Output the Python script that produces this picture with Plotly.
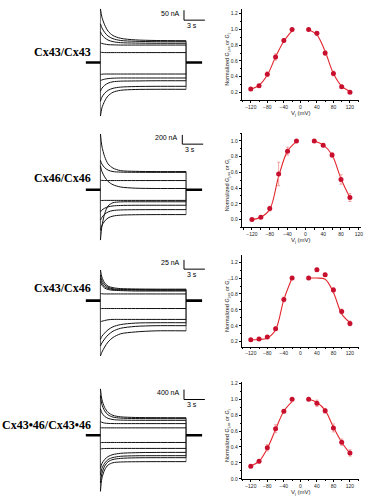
import plotly.graph_objects as go

W, H = 369, 500

# ======================= DATA =======================
# ---- right panels: normalized junctional conductance vs Vj (mV) ----
VJ_NEG = [-120, -100, -80, -60, -40, -20]
VJ_POS = [20, 40, 60, 80, 100, 120]
VJ_POS_4646 = [20, 40, 60, 80, 100]

# Cx43/Cx43
G_4343_NEG = [0.243, 0.285, 0.43, 0.65, 0.86, 1.00]
G_4343_POS = [1.00, 0.95, 0.70, 0.44, 0.27, 0.20]
ERR_4343_NEG = [0.01, 0.015, 0.03, 0.04, 0.02, 0.0]
ERR_4343_POS = [0.0, 0.02, 0.03, 0.03, 0.02, 0.01]
FIT_4343_NEG = [0.24, 0.29, 0.42, 0.65, 0.85, 0.98]
FIT_4343_POS = [1.00, 0.93, 0.72, 0.44, 0.28, 0.21]

# Cx46/Cx46
G_4646_NEG = [0.00, 0.03, 0.14, 0.58, 0.87, 1.00]
G_4646_POS = [1.00, 0.945, 0.82, 0.51, 0.28]
ERR_4646_NEG = [0.01, 0.015, 0.03, 0.15, 0.05, 0.0]
ERR_4646_POS = [0.0, 0.02, 0.03, 0.06, 0.05]
FIT_4646_NEG = [0.00, 0.03, 0.13, 0.55, 0.87, 0.99]
FIT_4646_POS = [1.00, 0.95, 0.82, 0.52, 0.28]

# Cx43/Cx46
G_4346_NEG = [0.226, 0.234, 0.26, 0.364, 0.73, 1.00]
G_4346_POS = [1.00, 1.105, 1.04, 0.85, 0.58, 0.43]
ERR_4346_NEG = [0.01, 0.01, 0.015, 0.02, 0.03, 0.0]
ERR_4346_POS = [0.0, 0.02, 0.02, 0.03, 0.03, 0.03]
FIT_4346_NEG = [0.225, 0.228, 0.245, 0.35, 0.73, 1.00]
FIT_4346_POS = [1.00, 1.00, 0.985, 0.82, 0.55, 0.44]

# Cx43*46/Cx43*46
G_TAN_NEG = [0.158, 0.22, 0.39, 0.63, 0.85, 1.00]
G_TAN_POS = [1.00, 0.95, 0.855, 0.64, 0.46, 0.325]
ERR_TAN_NEG = [0.02, 0.02, 0.04, 0.05, 0.02, 0.01]
ERR_TAN_POS = [0.0, 0.04, 0.03, 0.05, 0.04, 0.04]
FIT_TAN_NEG = [0.16, 0.22, 0.38, 0.62, 0.85, 0.97]
FIT_TAN_POS = [1.00, 0.96, 0.86, 0.65, 0.46, 0.32]

# ---- left panels: junctional current traces (nA) sampled at T_PULSE (s) ----
T_PULSE = [0, 0.2, 0.6, 1.1, 1.8, 2.9, 5.0, 8.0, 12.3]
T_HOLD_LEFT = [-2.1, 0]
T_HOLD_RIGHT = [12.3, 14.6]

I_4343 = [
    [52, 51, 50, 50, 50, 50, 50, 50, 50],
    [100, 96, 93, 90, 89, 88, 88, 88, 88],
    [155, 140, 125, 113, 105, 100, 98, 97, 97],
    [195, 175, 152, 133, 120, 111, 107, 105, 105],
    [270, 230, 190, 158, 136, 122, 114, 111, 110],
    [-60, -59, -58, -58, -58, -58, -58, -58, -58],
    [-92, -88, -84, -81, -79, -78, -78, -78, -78],
    [-145, -130, -115, -104, -97, -94, -93, -92, -92],
    [-195, -175, -155, -140, -130, -124, -121, -120, -120],
    [-270, -230, -195, -168, -150, -140, -136, -135, -135],
]
I_4646 = [
    [640, 560, 480, 425, 395, 383, 379, 378, 378],
    [205, 203, 201, 200, 200, 200, 200, 200, 200],
    [520, 400, 280, 180, 110, 60, 35, 28, 28],
    [1210, 950, 720, 560, 470, 415, 400, 395, 395],
    [-235, -232, -230, -230, -230, -230, -230, -230, -230],
    [-480, -440, -400, -370, -350, -340, -336, -335, -335],
    [-660, -600, -530, -480, -450, -437, -432, -430, -430],
    [-875, -780, -680, -610, -570, -550, -541, -538, -538],
    [-1090, -800, -520, -350, -280, -262, -260, -260, -260],
]
I_4346 = [
    [19, 18.5, 18, 18, 18, 18, 18, 18, 18],
    [52, 42, 34, 30, 28, 27, 26, 26, 26],
    [61, 48, 38, 33, 30, 29, 28.5, 28, 28],
    [70, 55, 43, 36, 32, 30.5, 30, 29.5, 29.5],
    [83, 64, 48, 39, 35, 32.5, 31.5, 31, 31],
    [-22, -21.5, -21.5, -21.5, -21.5, -21.5, -21.5, -21.5, -21.5],
    [-58, -56, -54, -52, -51, -51, -51, -51, -51],
    [-105, -97, -88, -79, -71, -65, -61, -60, -60],
    [-123, -115, -104, -93, -83, -75, -70, -68, -68],
    [-150, -140, -126, -112, -100, -90, -85, -82, -82],
]
I_TAN = [
    [300, 298, 296, 296, 296, 296, 296, 296, 296],
    [560, 520, 490, 475, 470, 468, 468, 468, 468],
    [1068, 900, 760, 680, 630, 610, 602, 600, 600],
    [1600, 1250, 980, 820, 730, 690, 672, 668, 668],
    [1868, 1450, 1120, 920, 800, 740, 715, 708, 705],
    [-300, -295, -293, -293, -293, -293, -293, -293, -293],
    [-560, -545, -537, -534, -533, -533, -533, -533, -533],
    [-1333, -1150, -980, -860, -780, -730, -705, -695, -693],
    [-1600, -1350, -1130, -980, -900, -850, -830, -826, -826],
    [-1930, -1550, -1250, -1070, -980, -935, -912, -906, -906],
    [-2265, -1750, -1400, -1200, -1110, -1080, -1070, -1066, -1066],
]

PAIR_LABELS = ["Cx43/Cx43", "Cx46/Cx46", "Cx43/Cx46", "Cx43\u202246/Cx43\u202246"]
SCALE_NA = [50, 200, 25, 400]
SCALE_S = 3
X_TICKS = [-120, -80, -40, 0, 40, 80, 120]
Y_TICKS_A = [0.2, 0.4, 0.6, 0.8, 1.0, 1.2]
Y_TICKS_B = [0.0, 0.2, 0.4, 0.6, 0.8, 1.0]
Y_TICKS_C = [0.0, 0.2, 0.4, 0.6, 0.8, 1.0, 1.2]
Y_TITLE = "Normalized G<sub>j,ss</sub> or G<sub>j</sub>"
X_TITLE = "V<sub>j</sub> (mV)"

# ======================= LAYOUT GEOMETRY (pixels) =======================
def fx(p):
    return p / W

def fy(p):
    return 1 - p / H

T0_PX, PX_PER_S = 101.0, 7.0
LEFT_X_PX = (80, 210)
LEFT = [
    dict(top=0, bot=120, base=61.0, bar_px=10.0, bar_x=185.0, bar_y=18.3, label_y=50.0),
    dict(top=125, bot=245, base=189.3, bar_px=9.3, bar_x=183.3, bar_y=143.3, label_y=177.5),
    dict(top=250, bot=362, base=301.0, bar_px=9.3, bar_x=185.0, bar_y=269.3, label_y=288.0),
    dict(top=375, bot=500, base=436.7, bar_px=10.0, bar_x=185.0, bar_y=400.7, label_y=426.0),
]
RIGHT = [
    dict(x0=243, x1=361, y0=7, y1=99, xr=[-142, 142], yr=[0.1, 1.26], yt=Y_TICKS_A, xt=True),
    dict(x0=243, x1=363, y0=131.7, y1=227.3, xr=[-143, 125], yr=[-0.1, 1.105], yt=Y_TICKS_B, xt=True),
    dict(x0=243, x1=361, y0=255, y1=347.3, xr=[-142, 142], yr=[0.14, 1.29], yt=Y_TICKS_A, xt=False),
    dict(x0=243, x1=361, y0=383.3, y1=481, xr=[-142, 142], yr=[-0.005, 1.215], yt=Y_TICKS_C, xt=True),
]

CURRENTS = [I_4343, I_4646, I_4346, I_TAN]
RIGHT_DATA = [
    (VJ_POS, G_4343_NEG, G_4343_POS, ERR_4343_NEG, ERR_4343_POS, FIT_4343_NEG, FIT_4343_POS),
    (VJ_POS_4646, G_4646_NEG, G_4646_POS, ERR_4646_NEG, ERR_4646_POS, FIT_4646_NEG, FIT_4646_POS),
    (VJ_POS, G_4346_NEG, G_4346_POS, ERR_4346_NEG, ERR_4346_POS, FIT_4346_NEG, FIT_4346_POS),
    (VJ_POS, G_TAN_NEG, G_TAN_POS, ERR_TAN_NEG, ERR_TAN_POS, FIT_TAN_NEG, FIT_TAN_POS),
]

MARK_C = "#c8102e"
LINE_C = "#e3262b"
ERR_C = "#f08a8a"
SANS = "Liberation Sans, Arial"

fig = go.Figure()
layout = dict(
    width=W, height=H, autosize=False,
    margin=dict(l=0, r=0, t=0, b=0),
    paper_bgcolor="white", plot_bgcolor="rgba(0,0,0,0)",
    showlegend=False,
)
shapes, annotations = [], []

t_lo = (LEFT_X_PX[0] - T0_PX) / PX_PER_S
t_hi = (LEFT_X_PX[1] - T0_PX) / PX_PER_S

for r in range(4):
    # ---------- left: current traces ----------
    g = LEFT[r]
    k = SCALE_NA[r] / g["bar_px"]
    ax_n = 2 * r + 1
    xa, ya = f"x{ax_n}", f"y{ax_n}"
    layout[f"xaxis{ax_n}"] = dict(domain=[fx(LEFT_X_PX[0]), fx(LEFT_X_PX[1])], range=[t_lo, t_hi],
                                  visible=False, anchor=ya)
    layout[f"yaxis{ax_n}"] = dict(domain=[fy(g["bot"]), fy(g["top"])],
                                  range=[(g["base"] - g["bot"]) * k, (g["base"] - g["top"]) * k],
                                  visible=False, anchor=xa)
    t_end = T_PULSE[-1]
    vx, vy = [], []
    for tr in CURRENTS[r]:
        vx += [0, 0, None, t_end, t_end, None]
        vy += [0, tr[0], None, tr[-1], 0, None]
    fig.add_trace(go.Scatter(x=vx, y=vy, mode="lines", xaxis=xa, yaxis=ya,
                             line=dict(color="#555", width=0.8), hoverinfo="skip"))
    for tr in CURRENTS[r]:
        fig.add_trace(go.Scatter(x=T_PULSE, y=tr, mode="lines", xaxis=xa, yaxis=ya,
                                 line=dict(color="#111", width=1.0, shape="spline", smoothing=0.8),
                                 hoverinfo="skip"))
    fig.add_trace(go.Scatter(x=T_HOLD_LEFT + [None] + T_HOLD_RIGHT, y=[0, 0, None, 0, 0],
                             mode="lines", xaxis=xa, yaxis=ya,
                             line=dict(color="#000", width=2.6), hoverinfo="skip"))
    # scale bar
    tb = (g["bar_x"] - T0_PX) / PX_PER_S
    ib = (g["base"] - g["bar_y"]) * k
    shapes.append(dict(type="line", xref=xa, yref=ya, x0=tb, x1=tb, y0=ib, y1=ib + SCALE_NA[r],
                       line=dict(color="black", width=1)))
    shapes.append(dict(type="line", xref=xa, yref=ya, x0=tb, x1=tb + SCALE_S, y0=ib, y1=ib,
                       line=dict(color="black", width=1)))
    annotations.append(dict(x=fx(g["bar_x"] - 2.5), y=fy(g["bar_y"] - g["bar_px"] * 0.7),
                            xref="paper", yref="paper", text=f"{SCALE_NA[r]} nA",
                            showarrow=False, xanchor="right", yanchor="middle",
                            font=dict(family=SANS, size=7, color="black")))
    annotations.append(dict(x=fx(g["bar_x"] + 8), y=fy(g["bar_y"] + 5.5),
                            xref="paper", yref="paper", text=f"{SCALE_S} s",
                            showarrow=False, xanchor="center", yanchor="middle",
                            font=dict(family=SANS, size=7, color="black")))
    annotations.append(dict(x=fx(94), y=fy(g["label_y"]),
                            xref="paper", yref="paper", text=f"<b>{PAIR_LABELS[r]}</b>",
                            showarrow=False, xanchor="right", yanchor="middle",
                            font=dict(family="Liberation Serif, Times New Roman", size=12, color="black")))

    # ---------- right: normalized Gj ----------
    rg = RIGHT[r]
    ax_m = 2 * r + 2
    xb, yb = f"x{ax_m}", f"y{ax_m}"
    common = dict(showline=True, linecolor="black", linewidth=0.8, ticks="outside", ticklen=2,
                  tickwidth=0.7, tickcolor="black", showgrid=False, zeroline=False,
                  tickfont=dict(family=SANS, size=5, color="#222"))
    layout[f"xaxis{ax_m}"] = dict(domain=[fx(rg["x0"]), fx(rg["x1"])], range=rg["xr"],
                                  tickvals=X_TICKS, anchor=yb,
                                  minor=dict(ticks="outside", ticklen=1.2, dtick=20, tickcolor="black"),
                                  **common)
    layout[f"yaxis{ax_m}"] = dict(domain=[fy(rg["y1"]), fy(rg["y0"])], range=rg["yr"],
                                  tickvals=rg["yt"], tickformat=".1f", anchor=xb,
                                  minor=dict(ticks="outside", ticklen=1.2, dtick=0.1, tickcolor="black"),
                                  **common)
    vpos, gn, gp, en, ep, fn, fp = RIGHT_DATA[r]
    for xs, ys in ((VJ_NEG, fn), (vpos, fp)):
        fig.add_trace(go.Scatter(x=xs, y=ys, mode="lines", xaxis=xb, yaxis=yb,
                                 line=dict(color=LINE_C, width=1.1, shape="spline", smoothing=1.0),
                                 hoverinfo="skip"))
    for xs, ys, es in ((VJ_NEG, gn, en), (vpos, gp, ep)):
        fig.add_trace(go.Scatter(x=xs, y=ys, mode="markers", xaxis=xb, yaxis=yb,
                                 marker=dict(color=MARK_C, size=5, line=dict(width=0)),
                                 error_y=dict(type="data", array=es, color=ERR_C, thickness=0.8, width=1.5),
                                 hoverinfo="skip"))
    annotations.append(dict(x=fx(228.5), y=fy((rg["y0"] + rg["y1"]) / 2 + 5),
                            xref="paper", yref="paper", text=Y_TITLE, textangle=-90,
                            showarrow=False, xanchor="center", yanchor="middle",
                            font=dict(family=SANS, size=5.5, color="#222")))
    if rg["xt"]:
        annotations.append(dict(x=fx(303), y=fy(rg["y1"] + 13.5),
                                xref="paper", yref="paper", text=X_TITLE,
                                showarrow=False, xanchor="center", yanchor="middle",
                                font=dict(family=SANS, size=6, color="#222")))

layout["shapes"] = shapes
layout["annotations"] = annotations
fig.update_layout(**layout)

fig.write_html("out.html", config={"displayModeBar": False},
               post_script="document.body.style.margin='0';document.body.style.padding='0';")
